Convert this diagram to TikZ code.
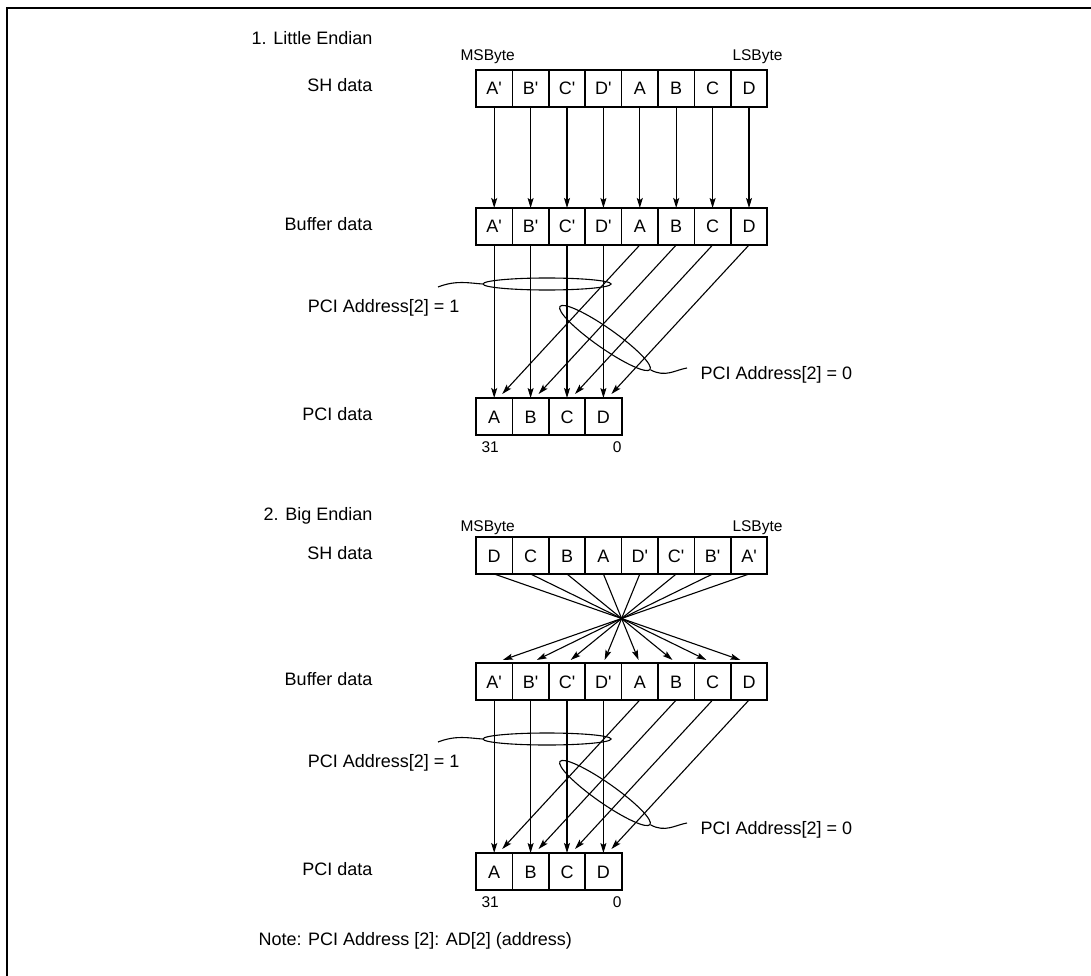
\documentclass[tikz,border=0pt]{standalone}
\usepackage{fontspec}
\setmainfont{Liberation Sans}
\usetikzlibrary{arrows.meta,shapes.geometric,calc}
\newcommand{\pr}{\textquotesingle}

\begin{document}
\begin{tikzpicture}[
  x=1pt, y=-1pt,
  font=\fontsize{18}{21}\selectfont,
  cell/.style={draw, line width=1.5pt, minimum width=36.4pt, minimum height=37pt,
               inner sep=0pt, outer sep=0pt, text height=13pt, text depth=0pt,
               font=\fontsize{18}{21}\selectfont},
  rowbox/.style={draw, line width=2.2pt},
  lab/.style={anchor=base east},
  tag/.style={font=\fontsize{15.5}{18}\selectfont},
  arr/.style={-{Stealth[length=10pt, width=6pt, inset=2pt]}, line width=1.1pt},
  ring/.style={draw, ellipse, line width=1.1pt, inner sep=0pt},
  lead/.style={line width=1.1pt}
]

\useasboundingbox (0,0) rectangle (1091,976);
\draw[line width=2.5pt] (1091,8) -- (7,8) -- (7,976);

% ================= Buffer and PCI rows (both cases) =================
\foreach \s/\yb in {le/208, be/663} {
  \node[lab] (\s-buflab) at (376,\yb+22) {Buffer data};
  \foreach \t [count=\i from 0] in {A\pr,B\pr,C\pr,D\pr,A,B,C,D}
    \node[cell] (\s-buf-\i) at ({494.2+36.4*\i},\yb+18.5) {\t};
  \draw[rowbox] (\s-buf-0.north west) rectangle (\s-buf-7.south east);

  \node[lab] (\s-pcilab) at (376,\yb+212) {PCI data};
  \foreach \t [count=\i from 0] in {A,B,C,D}
    \node[cell] (\s-pci-\i) at ({494.2+36.4*\i},\yb+208.5) {\t};
  \draw[rowbox] (\s-pci-0.north west) rectangle (\s-pci-3.south east);
  \node[tag, anchor=base west] (\s-bit31) at (478,\yb+244) {31};
  \node[tag, anchor=base east] (\s-bit0) at (625,\yb+244) {0};

  \foreach \i in {0,...,3} {
    \pgfmathtruncatemacro{\j}{\i+4}
    \draw[arr] (\s-buf-\i.south) -- (\s-pci-\i.north);
    \draw[arr] (\s-buf-\j.south) -- ([xshift=8pt,yshift=4pt]\s-pci-\i.north);
  }

  % address select rings
  \node[ring, minimum width=128pt, minimum height=12pt] (\s-ring1) at (547,\yb+76) {};
  \node[ring, minimum width=110pt, minimum height=20pt, rotate=-35] (\s-ring0) at (605,\yb+130) {};
  \coordinate (\s-lead1) at (438,\yb+79);
  \coordinate (\s-lead0) at (687,\yb+160);
  \draw[lead] (\s-lead1) .. controls +(18,-7) and +(-14,-1) .. (\s-ring1.west);
  \draw[lead] (\s-ring0.east) .. controls +(15,8) and +(-12,2) .. (\s-lead0);
  \node[lab] (\s-addr1) at (463,\yb+104) {PCI Address[2] = 1};
  \node[anchor=base west] (\s-addr0) at (697,\yb+171) {PCI Address[2] = 0};
}

% ================= 1. Little Endian =================
\node[lab] (le-title) at (376,45) {1. Little Endian};
\node[tag, anchor=base west] (le-msb) at (457,61) {MSByte};
\node[tag, anchor=base east] (le-lsb) at (786,61) {LSByte};
\node[lab] (le-shlab) at (376,92) {SH data};
\foreach \t [count=\i from 0] in {A\pr,B\pr,C\pr,D\pr,A,B,C,D}
  \node[cell] (le-sh-\i) at ({494.2+36.4*\i},88.5) {\t};
\draw[rowbox] (le-sh-0.north west) rectangle (le-sh-7.south east);
\foreach \i in {0,...,7}
  \draw[arr] (le-sh-\i.south) -- (le-buf-\i.north);

% ================= 2. Big Endian =================
\node[lab] (be-title) at (376,520) {2. Big Endian};
\node[tag, anchor=base west] (be-msb) at (457,531) {MSByte};
\node[tag, anchor=base east] (be-lsb) at (786,531) {LSByte};
\node[lab] (be-shlab) at (376,559) {SH data};
\foreach \t [count=\i from 0] in {D,C,B,A,D\pr,C\pr,B\pr,A\pr}
  \node[cell] (be-sh-\i) at ({494.2+36.4*\i},555.5) {\t};
\draw[rowbox] (be-sh-0.north west) rectangle (be-sh-7.south east);
\foreach \i in {0,...,7} {
  \pgfmathtruncatemacro{\j}{7-\i}
  \draw[arr] (be-sh-\i.south) -- ($(be-sh-\i.south)!0.966!(be-buf-\j.north)$);
}

% ================= Note =================
\node[anchor=base west] (note) at (255,945) {Note: PCI Address [2]: AD[2] (address)};

\end{tikzpicture}
\end{document}
